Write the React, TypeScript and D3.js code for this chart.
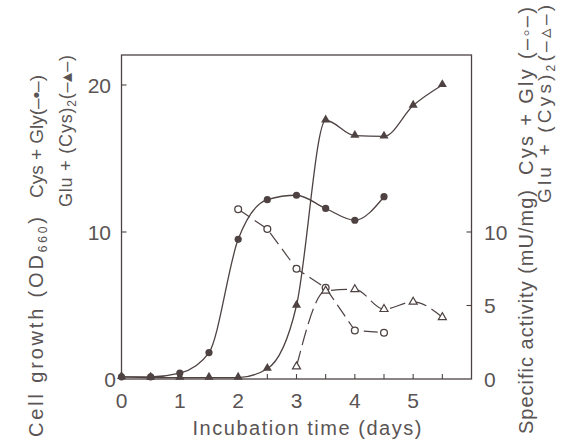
import React from "react";
import * as d3 from "d3";

const cysGlyGrowthDays = [0, 0.5, 1, 1.5, 2, 2.5, 3, 3.5, 4, 4.5];
const cysGlyGrowth = [0.15, 0.15, 0.4, 1.8, 9.5, 12.2, 12.5, 11.6, 10.8, 12.4];

const gluCysGrowthDays = [0, 0.5, 1, 1.5, 2, 2.5, 3, 3.5, 4, 4.5, 5, 5.5];
const gluCysGrowth = [0.15, 0.1, 0.1, 0.1, 0.1, 0.7, 5.0, 17.6, 16.55, 16.5, 18.6, 20.0];

const cysGlyActivityDays = [2, 2.5, 3, 3.5, 4, 4.5];
const cysGlyActivity = [11.55, 10.2, 7.5, 6.2, 3.3, 3.15];

const gluCysActivityDays = [3, 3.5, 4, 4.5, 5, 5.5];
const gluCysActivity = [0.85, 6.0, 6.1, 4.75, 5.25, 4.2];

const xTicks = [0, 1, 2, 3, 4, 5];
const xMinorTicks = [0.5, 1, 1.5, 2, 2.5, 3, 3.5, 4, 4.5, 5, 5.5];
const leftTicks = [0, 10, 20];
const rightTicks = [0, 5, 10];

const INK = "#4e4242";
const TXT = "#5a5454";
const FONT = "'Liberation Sans', Arial, sans-serif";

export default function App() {
  const x = d3.scaleLinear().domain([0, 6]).range([121.5, 471.5]);
  const y = d3.scaleLinear().domain([0, 22.04]).range([379, 55]);
  const yr = d3.scaleLinear().domain([0, 22.04]).range([379, 55]);

  const zip = (xs: number[], ys: number[]) => xs.map((d, i) => [d, ys[i]] as [number, number]);
  const s1 = zip(cysGlyGrowthDays, cysGlyGrowth);
  const s2 = zip(gluCysGrowthDays, gluCysGrowth);
  const s3 = zip(cysGlyActivityDays, cysGlyActivity);
  const s4 = zip(gluCysActivityDays, gluCysActivity);

  const lineL = d3.line<[number, number]>().x(d => x(d[0])).y(d => y(d[1])).curve(d3.curveMonotoneX);
  const lineR = d3.line<[number, number]>().x(d => x(d[0])).y(d => yr(d[1])).curve(d3.curveLinear);
  const lineRm = d3.line<[number, number]>().x(d => x(d[0])).y(d => yr(d[1])).curve(d3.curveMonotoneX);

  const tri = d3.symbol().type(d3.symbolTriangle).size(36)() as string;
  const triOpen = d3.symbol().type(d3.symbolTriangle).size(28)() as string;

  const [x0, x1] = x.range();
  const [yb, yt] = y.range();

  const sub = (s: string) => <tspan fontSize={12} dy={4}>{s}</tspan>;

  return (
    <svg width={562} height={442} style={{ position: "absolute", left: 0, top: 0, background: "#fff" }}>
      <rect x={0} y={0} width={562} height={442} fill="#fff" />
      <rect x={x0} y={yt} width={x1 - x0} height={yb - yt} fill="none" stroke={INK} strokeWidth={1.3} />
      {xMinorTicks.map(t => (
        <line key={"bt" + t} x1={x(t)} x2={x(t)} y1={yb} y2={yb - 5} stroke={INK} strokeWidth={1.1} />
      ))}
      {leftTicks.filter(t => t > 0).map(t => (
        <line key={"lt" + t} x1={x0} x2={x0 + 5} y1={y(t)} y2={y(t)} stroke={INK} strokeWidth={1.1} />
      ))}
      {rightTicks.filter(t => t > 0).map(t => (
        <line key={"rt" + t} x1={x1} x2={x1 - 5} y1={yr(t)} y2={yr(t)} stroke={INK} strokeWidth={1.1} />
      ))}

      <g fontFamily={FONT} fontSize={21} fill={TXT}>
        {xTicks.map(t => (
          <text key={"xl" + t} x={x(t)} y={408} textAnchor="middle">{t}</text>
        ))}
        {leftTicks.map(t => (
          <text key={"yl" + t} x={t === 0 ? 116 : 111} y={y(t) + 8} textAnchor="end">{t}</text>
        ))}
        {rightTicks.map(t => (
          <text key={"yr" + t} x={484} y={yr(t) + 8} textAnchor="start">{t}</text>
        ))}
      </g>

      <g fontFamily={FONT} fontSize={20} fill={TXT}>
        <text x={307} y={435} textAnchor="middle" textLength={229} lengthAdjust="spacing">Incubation time (days)</text>
        <text transform="translate(43,437) rotate(-90)" textLength={220} lengthAdjust="spacing">
          Cell growth (OD{sub("660")}<tspan dy={-4}>)</tspan>
        </text>
        <text transform="translate(43,198) rotate(-90)" fontSize={19} textLength={123} lengthAdjust="spacing">Cys + Gly(–•–)</text>
        <text transform="translate(72,207) rotate(-90)" fontSize={18} textLength={152} lengthAdjust="spacing">
          Glu + (Cys){sub("2")}<tspan dy={-4}>(–▴–)</tspan>
        </text>
        <text transform="translate(533,434) rotate(-90)" textLength={244} lengthAdjust="spacing">Specific activity (mU/mg)</text>
        <text transform="translate(533,175) rotate(-90)" textLength={168} lengthAdjust="spacing">Cys + Gly (–◦–)</text>
        <text transform="translate(551,203) rotate(-90)" fontSize={19} textLength={198} lengthAdjust="spacing">
          Glu + (Cys){sub("2")}<tspan dy={-4}>(–▵–)</tspan>
        </text>
      </g>

      <path d={lineL(s1) as string} fill="none" stroke={INK} strokeWidth={1.3} />
      <path d={lineL(s2) as string} fill="none" stroke={INK} strokeWidth={1.3} />
      <path d={lineR(s3) as string} fill="none" stroke={INK} strokeWidth={1.2} strokeDasharray="14,6" />
      <path d={lineRm(s4) as string} fill="none" stroke={INK} strokeWidth={1.2} strokeDasharray="16,6" />

      {s2.map((d, i) => (
        <path key={"m2" + i} d={tri} transform={`translate(${x(d[0])},${y(d[1]) - 0.5})`} fill={INK} />
      ))}
      {s1.map((d, i) => (
        <circle key={"m1" + i} cx={x(d[0])} cy={y(d[1])} r={3.6} fill={INK} />
      ))}
      {s3.map((d, i) => (
        <circle key={"m3" + i} cx={x(d[0])} cy={yr(d[1])} r={3.4} fill="#fff" stroke={INK} strokeWidth={1.3} />
      ))}
      {s4.map((d, i) => (
        <path key={"m4" + i} d={triOpen} transform={`translate(${x(d[0])},${yr(d[1])})`} fill="#fff" stroke={INK} strokeWidth={1.2} />
      ))}
    </svg>
  );
}
